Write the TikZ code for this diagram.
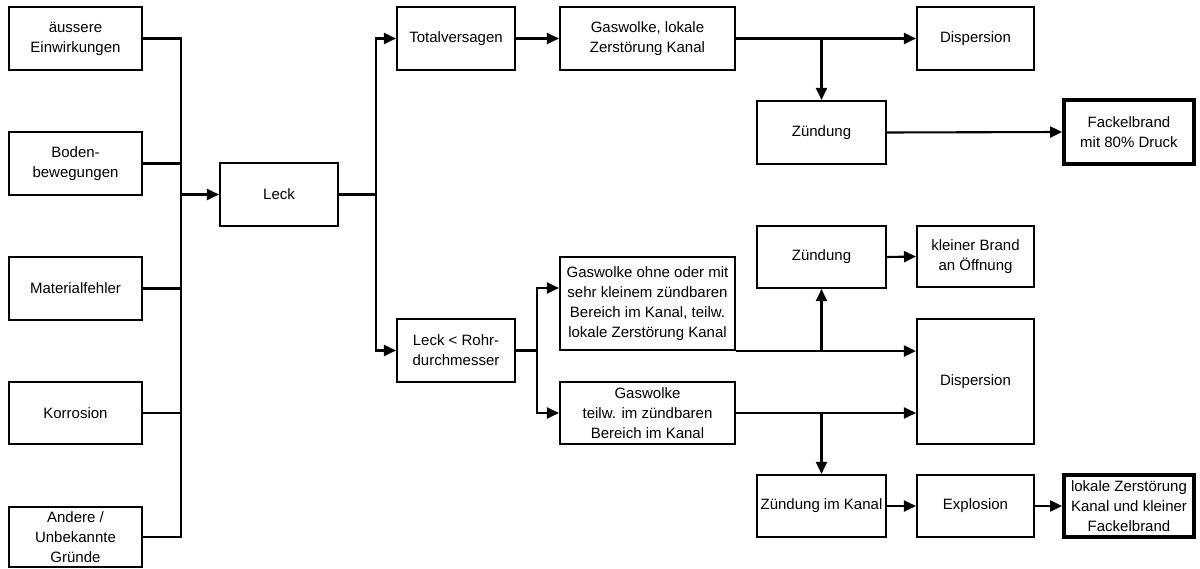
\documentclass[tikz,border=0pt]{standalone}
\usepackage{fontspec}
\setmainfont{Liberation Sans}
\usetikzlibrary{arrows.meta,calc}
\begin{document}
\begin{tikzpicture}[x=1pt,y=-1pt,
  font=\fontsize{15}{20}\selectfont,
  box/.style={draw,line width=2.1pt,inner sep=0pt,align=center,fill=white},
  endbox/.style={box,line width=3.8pt},
  conn/.style={line width=2.1pt},
  arr/.style={conn,-{Triangle[length=12pt,width=11pt]}},
  barr/.style={conn,{Triangle[length=12pt,width=11pt]}-{Triangle[length=12pt,width=11pt]}}]
\useasboundingbox[fill=white] (0,0) rectangle (1200,569);

% causes
\node[box,minimum width=133,minimum height=63] (a1) at (75.5,38.5) {äussere\\Einwirkungen};
\node[box,minimum width=133,minimum height=63] (a2) at (75.5,163.5) {Boden-\\bewegungen};
\node[box,minimum width=133,minimum height=63] (a3) at (75.5,288.5) {Materialfehler};
\node[box,minimum width=133,minimum height=62] (a4) at (75.5,413) {Korrosion};
\node[box,minimum width=133,minimum height=60] (a5) at (75.5,537) {Andere /\\Unbekannte\\Gründe};

% leak
\node[box,minimum width=118,minimum height=63] (leck) at (279,194.5) {Leck};
\node[box,minimum width=118,minimum height=63] (tv) at (456,38.5) {Totalversagen};
\node[box,minimum width=118,minimum height=63] (lr) at (456,350.5) {Leck < Rohr-\\durchmesser};

% gas clouds
\node[box,minimum width=175,minimum height=63] (g1) at (647.5,38.5) {Gaswolke, lokale\\Zerstörung Kanal};
\node[box,minimum width=175,minimum height=93] (g2) at (647.5,303.5) {Gaswolke ohne oder mit\\sehr kleinem zündbaren\\Bereich im Kanal, teilw.\\lokale Zerstörung Kanal};
\node[box,minimum width=175,minimum height=62] (g3) at (647.5,413) {Gaswolke\\teilw. im zündbaren\\Bereich im Kanal};

% ignition
\node[box,minimum width=129,minimum height=63] (z1) at (821.5,132.5) {Zündung};
\node[box,minimum width=129,minimum height=62] (z2) at (821.5,257) {Zündung};
\node[box,minimum width=129,minimum height=62] (zk) at (821.5,506) {Zündung im Kanal};

% outcomes
\node[box,minimum width=117,minimum height=63] (d1) at (975.5,38.5) {Dispersion};
\node[box,minimum width=117,minimum height=61] (kb) at (975.5,256.5) {kleiner Brand\\an Öffnung};
\node[box,minimum width=117,minimum height=125] (d2) at (975.5,381.5) {Dispersion};
\node[box,minimum width=117,minimum height=62] (ex) at (975.5,506) {Explosion};
\node[endbox,minimum width=130,minimum height=64] (fb) at (1129,132) {Fackelbrand\\mit 80\% Druck};
\node[endbox,minimum width=130,minimum height=62] (lz) at (1129,506) {lokale Zerstörung\\Kanal und kleiner\\Fackelbrand};

% bus lines
\coordinate (b1) at (181,0);
\coordinate (b2) at (375.7,0);
\coordinate (b3) at (537,0);

\draw[conn] (a1.east) -- (a1.east -| b1) -- (a5.east -| b1) -- (a5.east);
\draw[conn] (a2.east) -- (a2.east -| b1);
\draw[conn] (a3.east) -- (a3.east -| b1);
\draw[conn] (a4.east) -- (a4.east -| b1);
\draw[arr] (leck.west -| b1) -- (leck.west);

\draw[conn] (leck.east) -- (leck.east -| b2);
\draw[barr] (tv.west) -- (tv.west -| b2) -- (lr.west -| b2) -- (lr.west);

\draw[arr] (tv) -- (g1);
\draw[arr] (g1.east) -- (d1.west);
\draw[arr] (z1.north |- g1.east) -- (z1.north);
\draw[arr] (z1.east) -- (fb.west);

\coordinate (g2in) at ([yshift=15.5pt]g2.west);
\draw[conn] (lr.east) -- (lr.east -| b3);
\draw[barr] (g2in) -- (g2in -| b3) -- (g3.west -| b3) -- (g3.west);

\draw[arr] (g2.south east) -- (d2.west |- g2.south east);
\draw[arr] (z2.south |- g2.south east) -- (z2.south);
\draw[arr] (z2.east) -- (kb.west);

\draw[arr] (g3.east) -- (d2.west |- g3.east);
\draw[arr] (zk.north |- g3.east) -- (zk.north);
\draw[arr] (zk.east) -- (ex.west);
\draw[arr] (ex.east) -- (lz.west);
\end{tikzpicture}
\end{document}
